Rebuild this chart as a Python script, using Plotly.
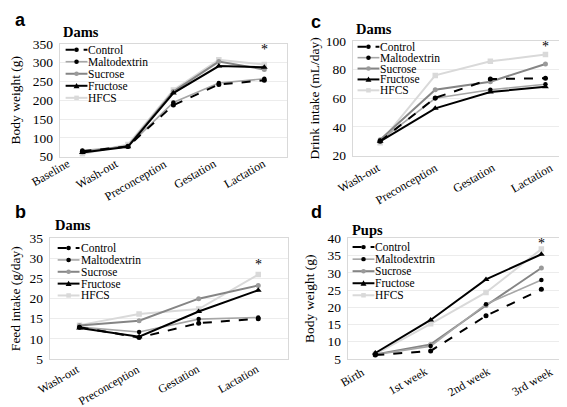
import plotly.graph_objects as go

W, H = 567, 407
series = ["Control", "Maltodextrin", "Sucrose", "Fructose", "HFCS"]

cats_a = ["Baseline", "Wash-out", "Preconception", "Gestation", "Lactation"]
a_control = [64, 77, 187, 242, 253]
a_malto = [66, 77, 194, 246, 257]
a_sucrose = [62, 78, 223, 303, 282]
a_fructose = [61, 76, 219, 291, 288]
a_hfcs = [57, 82, 227, 308, 295]

cats_b = ["Wash-out", "Preconception", "Gestation", "Lactation"]
b_control = [12.9, 10.3, 13.9, 15.0]
b_malto = [12.9, 11.7, 14.9, 15.3]
b_sucrose = [13.3, 14.5, 20.0, 23.3]
b_fructose = [12.7, 10.5, 16.8, 22.1]
b_hfcs = [13.4, 16.2, 17.4, 26.0]

cats_c = ["Wash-out", "Preconception", "Gestation", "Lactation"]
c_control = [30, 60.3, 73.4, 74]
c_malto = [30.5, 60, 66, 69.8]
c_sucrose = [31, 66, 71.6, 84]
c_fructose = [30, 53, 64.4, 68]
c_hfcs = [29, 76, 85.8, 90.5]

cats_d = ["Birth", "1st week", "2nd week", "3rd week"]
d_control = [6.1, 7.3, 17.5, 25.2]
d_malto = [6.2, 8.7, 20.9, 27.9]
d_sucrose = [6.3, 9.2, 20.5, 31.4]
d_fructose = [6.7, 16.3, 28.1, 35.4]
d_hfcs = [6.4, 15.2, 24.3, 36.9]

styles = {
    "Control": dict(line=dict(color="#000000", width=2, dash="dash"),
                    marker=dict(symbol="circle", size=5, color="#000000")),
    "Maltodextrin": dict(line=dict(color="#a6a6a6", width=1.6),
                         marker=dict(symbol="circle", size=4.5, color="#000000")),
    "Sucrose": dict(line=dict(color="#858585", width=2),
                    marker=dict(symbol="circle", size=5, color="#9a9a9a")),
    "Fructose": dict(line=dict(color="#000000", width=2),
                     marker=dict(symbol="triangle-up", size=6, color="#000000")),
    "HFCS": dict(line=dict(color="#d9d9d9", width=2),
                 marker=dict(symbol="square", size=5.5, color="#d9d9d9")),
}

panels = [
    ("", cats_a, [a_control, a_malto, a_sucrose, a_fructose, a_hfcs]),
    ("2", cats_b, [b_control, b_malto, b_sucrose, b_fructose, b_hfcs]),
    ("3", cats_c, [c_control, c_malto, c_sucrose, c_fructose, c_hfcs]),
    ("4", cats_d, [d_control, d_malto, d_sucrose, d_fructose, d_hfcs]),
]

fig = go.Figure()
order = ["HFCS", "Sucrose", "Maltodextrin", "Fructose", "Control"]
for suf, cats, vals in panels:
    for name in order:
        i = series.index(name)
        fig.add_trace(go.Scatter(
            x=list(range(len(cats))), y=vals[i], mode="lines+markers", name=name,
            xaxis="x" + suf, yaxis="y" + suf, showlegend=False, **styles[name]))

SERIF = "'Liberation Serif', 'Times New Roman', 'DejaVu Serif', serif"
SANS = "'Liberation Sans', Arial, sans-serif"

def px(x):
    return x / W

def py(y):
    return 1 - y / H

# suffix, box px (x0, x1, ytop, ybottom), y range, dtick, y title, title standoff,
# categories, tick-label x offset (start, step) and y offset in px, label font size
axes_spec = [
    ("", (48, 277, 30, 147), [50, 350], 50, "Body weight (g)", 15, cats_a, (-11, 3.5), 0, 12),
    ("2", (38, 278, 232, 357), [5, 35], 5, "Feed intake (g/day)", 11, cats_b, (3, 0), 3, 11.8),
    ("3", (343, 565, 27, 146), [20, 100], 20, "Drink intake (mL/day)", 2, cats_c, (2, 2.5), 5, 12),
    ("4", (338, 561, 232, 357), [5, 40], 5, "Body weight (g)", 9, cats_d, (-8, 7), 6, 12),
]

layout = dict(width=W, height=H, margin=dict(l=0, r=0, t=0, b=0),
              paper_bgcolor="white", plot_bgcolor="white",
              font=dict(family=SERIF, size=13, color="#000000"))
annotations = []
shapes = []

for suf, (x0, x1, yt, yb), yr, dt, ytitle, stand, cats, (ox0, ostep), oy, fs in axes_spec:
    n = len(cats)
    layout["xaxis" + suf] = dict(
        domain=[px(x0), px(x1)], anchor="y" + suf, range=[-0.5, n - 0.5],
        tickvals=list(range(n)), showticklabels=False,
        showgrid=False, showline=True, mirror=True, linecolor="#d9d9d9",
        linewidth=1, ticks="", zeroline=False)
    layout["yaxis" + suf] = dict(
        domain=[py(yb), py(yt)], anchor="x" + suf, range=yr, dtick=dt,
        showgrid=True, gridcolor="#ececec", gridwidth=1,
        showline=True, mirror=True, linecolor="#d9d9d9", linewidth=1,
        ticks="", zeroline=False, ticklabelstandoff=3,
        tickfont=dict(family=SERIF, size=13.5, color="#000000"),
        title=dict(text=ytitle, font=dict(family=SERIF, size=13.5), standoff=stand))
    for i, c in enumerate(cats):
        annotations.append(dict(
            text=c, x=i, y=0, xref="x" + suf, yref="y" + suf + " domain" if suf else "y domain",
            xanchor="right", yanchor="top", textangle=-30, showarrow=False,
            xshift=ox0 + ostep * i, yshift=-oy, borderpad=0, borderwidth=0,
            font=dict(family=SERIF, size=fs, color="#000000")))

for txt, x, y in [("a", 1, 5), ("b", 1, 205), ("c", 299, 7), ("d", 299, 205)]:
    annotations.append(dict(text="<b>" + txt + "</b>", x=px(x), y=py(y), xref="paper",
                            yref="paper", xanchor="left", yanchor="middle", showarrow=False,
                            font=dict(family=SANS, size=18, color="#000000")))
for txt, x, y in [("Dams", 49, 18), ("Dams", 41, 218), ("Dams", 344, 15), ("Pups", 340, 223)]:
    annotations.append(dict(text="<b>" + txt + "</b>", x=px(x), y=py(y), xref="paper",
                            yref="paper", xanchor="left", yanchor="middle", showarrow=False,
                            font=dict(family=SERIF, size=14.5, color="#000000")))

for suf, cats, yv in [("", cats_a, 336), ("2", cats_b, 28.6), ("3", cats_c, 96.5), ("4", cats_d, 38.6)]:
    annotations.append(dict(text="*", x=len(cats) - 1, y=yv, xref="x" + suf, yref="y" + suf,
                            showarrow=False, xanchor="center", yanchor="middle",
                            font=dict(family=SERIF, size=14, color="#000000")))

legend_pos = [(54, 76, 36, 12.5), (46, 68, 242, 12.3), (348, 370, 33, 11.3), (343, 365, 241, 12.5)]
for lx0, lx1, ly0, dy in legend_pos:
    for k, name in enumerate(series):
        st = styles[name]
        yy = ly0 + k * dy
        shapes.append(dict(type="line", xref="paper", yref="paper",
                           x0=px(lx0), x1=px(lx1), y0=py(yy), y1=py(yy),
                           line=dict(color=st["line"]["color"], width=st["line"]["width"],
                                     dash="dash" if name == "Control" else "solid")))
        cx = (lx0 + lx1) / 2
        mc = st["marker"]["color"]
        sym = st["marker"]["symbol"]
        r = 2.3
        if sym == "circle":
            shapes.append(dict(type="circle", xref="paper", yref="paper",
                               x0=px(cx - r), x1=px(cx + r), y0=py(yy + r), y1=py(yy - r),
                               fillcolor=mc, line=dict(width=0)))
        elif sym == "square":
            shapes.append(dict(type="rect", xref="paper", yref="paper",
                               x0=px(cx - r), x1=px(cx + r), y0=py(yy + r), y1=py(yy - r),
                               fillcolor=mc, line=dict(width=0)))
        else:
            path = "M {} {} L {} {} L {} {} Z".format(px(cx - 3), py(yy + 2.5), px(cx + 3),
                                                     py(yy + 2.5), px(cx), py(yy - 3))
            shapes.append(dict(type="path", xref="paper", yref="paper", path=path,
                               fillcolor=mc, line=dict(width=0)))
        annotations.append(dict(text=name, x=px(lx1 + 1), y=py(yy), xref="paper", yref="paper",
                                xanchor="left", yanchor="middle", showarrow=False,
                                borderpad=0, borderwidth=0,
                                font=dict(family=SERIF, size=11.5, color="#000000")))

layout["annotations"] = annotations
layout["shapes"] = shapes
fig.update_layout(**layout)
fig.write_html("out.html")
